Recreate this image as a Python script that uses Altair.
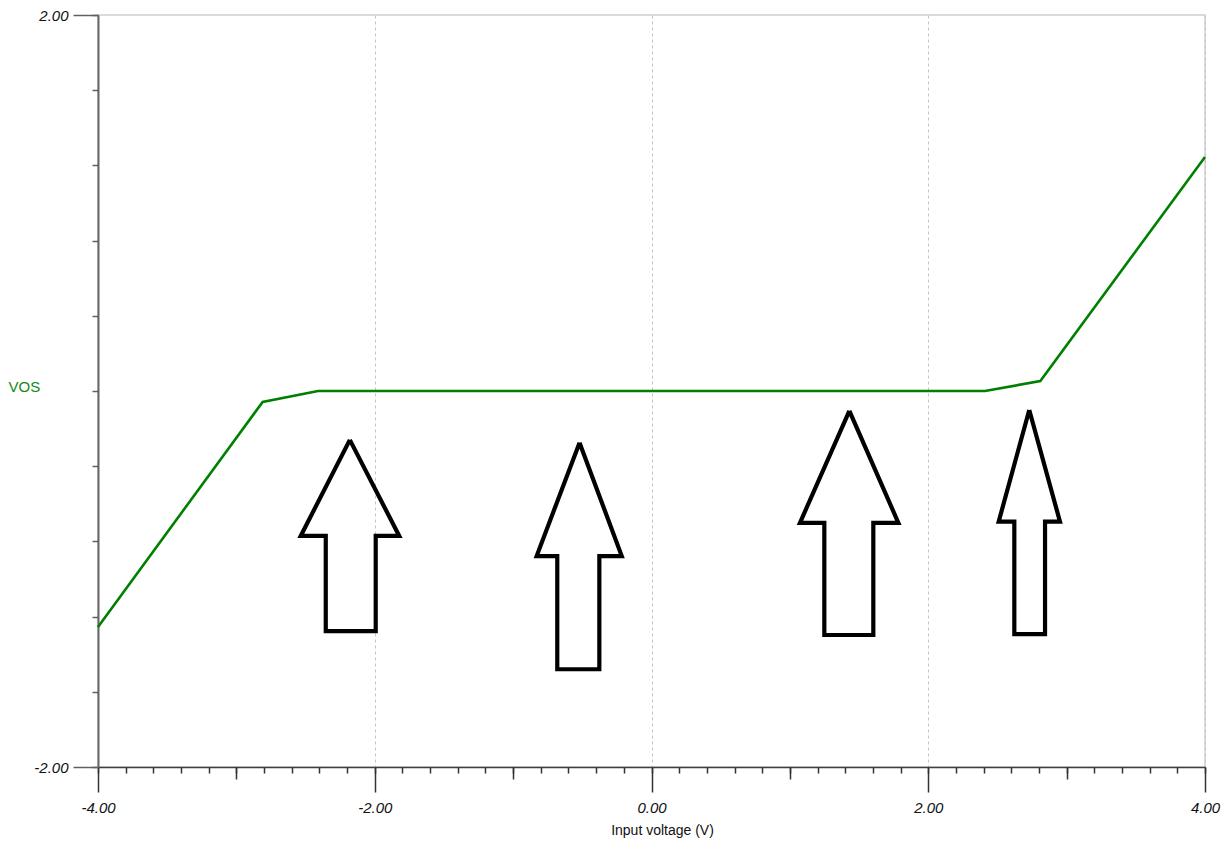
import altair as alt
import pandas as pd

# DC sweep: offset voltage vs input voltage
vin = [-4.0, -2.81, -2.41, 2.41, 2.81, 4.0]
vos = [-1.255, -0.058, 0.0, 0.0, 0.053, 1.245]

# block arrows drawn on top of the plot (data units)
arrow_tip_x = [-2.18, -0.52, 1.43, 2.73]
arrow_tip_y = [-0.26, -0.275, -0.106, -0.101]
arrow_head_y = [-0.771, -0.878, -0.701, -0.695]
arrow_head_left = [-2.535, -0.830, 1.073, 2.509]
arrow_head_right = [-1.823, -0.215, 1.784, 2.952]
arrow_shaft_left = [-2.354, -0.681, 1.249, 2.622]
arrow_shaft_right = [-1.993, -0.377, 1.603, 2.844]
arrow_bottom_y = [-1.277, -1.480, -1.298, -1.293]

# axis ticks
x_major = [-4, -2, 0, 2, 4]
x_mid = [-3, -1, 1, 3]
x_minor = [round(-4 + 0.2 * i, 2) for i in range(41)]
y_major = [-2, 2]
y_minor = [round(-2 + 0.4 * i, 2) for i in range(11)]

curve = pd.DataFrame({"vin": vin, "vos": vos})

rows = []
for i in range(len(arrow_tip_x)):
    outline = [
        (arrow_tip_x[i], arrow_tip_y[i]),
        (arrow_head_right[i], arrow_head_y[i]),
        (arrow_shaft_right[i], arrow_head_y[i]),
        (arrow_shaft_right[i], arrow_bottom_y[i]),
        (arrow_shaft_left[i], arrow_bottom_y[i]),
        (arrow_shaft_left[i], arrow_head_y[i]),
        (arrow_head_left[i], arrow_head_y[i]),
        (arrow_tip_x[i], arrow_tip_y[i]),
    ]
    for k, (ax, ay) in enumerate(outline):
        rows.append({"arrow": i, "k": k, "vin": ax, "vos": ay})
arrows = pd.DataFrame(rows)

xscale = alt.Scale(domain=[-4, 4], nice=False, zero=False)
yscale = alt.Scale(domain=[-2, 2], nice=False, zero=False)

lab_expr = "(datum.value < 0 ? '-' : '') + format(abs(datum.value), '.2f')"

line = alt.Chart(curve).mark_line(color="#008000", strokeWidth=2.6).encode(
    x=alt.X("vin:Q", scale=xscale, axis=alt.Axis(
        orient="bottom", values=x_major, tickSize=25, tickColor="#333333",
        tickWidth=1.5, domainColor="#404040", domainWidth=1.5,
        labelExpr=lab_expr, labelFont="Liberation Sans", labelFontSize=15,
        labelFontStyle="italic", labelColor="#111111", labelPadding=8,
        labelFlush=False,
        grid=True, gridDash=[3, 3], gridColor="#c4c4c4", gridWidth=1,
        title="Input voltage (V)", titleFont="Liberation Sans",
        titleFontSize=14, titleFontWeight="normal", titleColor="#111111",
        titleBaseline="middle", titleX=564, titleY=63)),
    y=alt.Y("vos:Q", scale=yscale, axis=alt.Axis(
        orient="left", values=y_major, tickSize=25, tickColor="#606060",
        tickWidth=1.5, domainColor="#666666", domainWidth=2,
        labelExpr=lab_expr, labelFont="Liberation Sans", labelFontSize=15,
        labelFontStyle="italic", labelColor="#111111", labelPadding=5,
        labelFlush=False, grid=False,
        title="VOS", titleAngle=0, titleAlign="left", titleBaseline="middle",
        titleX=-90, titleY=371, titleFont="Liberation Sans", titleFontSize=15,
        titleFontWeight="normal", titleColor="#118a11")),
)

arrow_layer = alt.Chart(arrows).mark_line(
    color="black", strokeWidth=4.2, strokeJoin="miter"
).encode(
    x=alt.X("vin:Q", scale=xscale, axis=alt.Axis(
        orient="bottom", values=x_minor, tickSize=6, tickColor="#333333",
        tickWidth=1.5, labels=False, domain=False, grid=False, title=None)),
    y=alt.Y("vos:Q", scale=yscale, axis=alt.Axis(
        orient="left", values=y_minor, tickSize=6, tickColor="#606060",
        tickWidth=1.5, labels=False, domain=False, grid=False, title=None)),
    detail="arrow:N",
    order="k:Q",
)

mid_ticks = alt.Chart(curve).mark_line(strokeOpacity=0).encode(
    x=alt.X("vin:Q", scale=xscale, axis=alt.Axis(
        orient="bottom", values=x_mid, tickSize=12, tickColor="#333333",
        tickWidth=1.5, labels=False, domain=False, grid=False, title=None)),
    y=alt.Y("vos:Q", scale=yscale, axis=None),
)

chart = alt.layer(line, mid_ticks, arrow_layer).resolve_axis(
    x="independent", y="independent"
).properties(
    width=1107, height=752,
    autosize=alt.AutoSizeParams(type="none"),
    padding={"left": 90, "top": 7, "right": 16, "bottom": 78},
).configure_view(
    stroke="#d0d0d0", strokeWidth=1.5
)

chart.save("out.html", embed_options={"renderer": "svg", "actions": False})
